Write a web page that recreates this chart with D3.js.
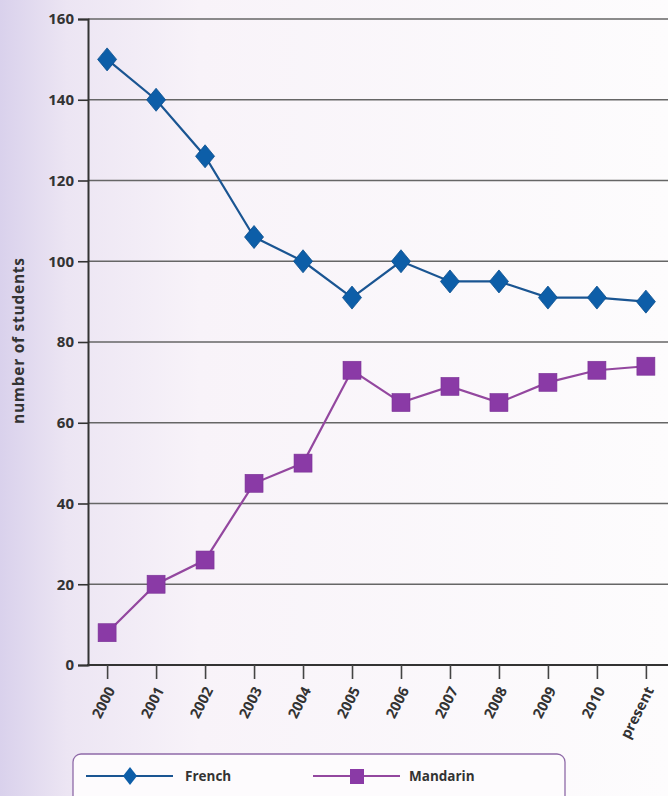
<!DOCTYPE html>
<html><head><meta charset="utf-8">
<script src="https://cdn.jsdelivr.net/npm/d3@7"></script>
<style>
html,body{margin:0;padding:0;}
body{width:668px;height:796px;overflow:hidden;}
svg{display:block;}
text{font-family:"Open Sans","Noto Sans",sans-serif;font-weight:700;fill:#333;}
</style></head>
<body>
<script>
const categories = ["2000","2001","2002","2003","2004","2005","2006","2007","2008","2009","2010","present"];
const french   = [150, 140, 126, 106, 100, 91, 100, 95, 95, 91, 91, 90];
const mandarin = [8, 20, 26, 45, 50, 73, 65, 69, 65, 70, 73, 74];
const yTicks = [0, 20, 40, 60, 80, 100, 120, 140, 160];
const seriesNames = ["French", "Mandarin"];

const W = 668, H = 796;
const svg = d3.select("body").append("svg").attr("width", W).attr("height", H);

const defs = svg.append("defs");
const bg = defs.append("linearGradient").attr("id","bg").attr("x1","0").attr("x2","1").attr("y1","0").attr("y2","0");
bg.append("stop").attr("offset","0").attr("stop-color","#d9d1ec");
bg.append("stop").attr("offset","0.1").attr("stop-color","#ece5f3");
bg.append("stop").attr("offset","0.3").attr("stop-color","#f8f3f9");
bg.append("stop").attr("offset","1").attr("stop-color","#fdfcfd");
svg.append("rect").attr("width",W).attr("height",H).attr("fill","url(#bg)");

const x = d3.scalePoint().domain(categories).range([88, 665]).padding(0.39);
const y = d3.scaleLinear().domain([0, 160]).range([665, 19]);

// gridlines
svg.append("g").selectAll("line").data(yTicks.filter(d => d > 0)).join("line")
  .attr("x1", 88).attr("x2", 668)
  .attr("y1", d => y(d)).attr("y2", d => y(d))
  .attr("stroke", "#666").attr("stroke-width", 1.6);

// y axis
const yAxis = svg.append("g").attr("transform", "translate(88,0)")
  .call(d3.axisLeft(y).tickValues(yTicks).tickSize(10).tickPadding(4));
yAxis.select(".domain").attr("stroke", "#333").attr("stroke-width", 2);
yAxis.selectAll(".tick line").attr("stroke", "#333").attr("stroke-width", 1.6);
yAxis.selectAll(".tick text").style("font-size", "15px").attr("fill", "#333")
  .style("font-family", '"Open Sans",sans-serif').style("font-weight", 700);

// x axis
const xAxis = svg.append("g").attr("transform", "translate(0,665)")
  .call(d3.axisBottom(x).tickSize(14).tickSizeOuter(0));
xAxis.select(".domain").attr("d", "M87,0H668").attr("stroke", "#333").attr("stroke-width", 2.2);
xAxis.selectAll(".tick line").attr("stroke", "#444").attr("stroke-width", 1.6);
xAxis.selectAll(".tick text")
  .style("font-size", "14.5px").attr("fill", "#333")
  .style("font-family", '"Open Sans",sans-serif').style("font-weight", 700)
  .attr("text-anchor", "end")
  .attr("dy", null).attr("y", 0)
  .attr("transform", "translate(8,25) rotate(-63)");

// y label
svg.append("text").attr("transform", "translate(24,341) rotate(-90)")
  .attr("text-anchor", "middle").style("font-size", "15.5px")
  .attr("textLength", 166).attr("lengthAdjust", "spacing")
  .text("number of students");

// lines
const line = d3.line().x((d, i) => x(categories[i])).y(d => y(d));
svg.append("path").datum(french).attr("d", line).attr("fill", "none")
  .attr("stroke", "#1a5592").attr("stroke-width", 2.2);
svg.append("path").datum(mandarin).attr("d", line).attr("fill", "none")
  .attr("stroke", "#93479f").attr("stroke-width", 2.2);

// markers
const diamond = (cx, cy, w, h) => `M${cx},${cy - h/2}L${cx + w/2},${cy}L${cx},${cy + h/2}L${cx - w/2},${cy}Z`;
svg.append("g").selectAll("path").data(french).join("path")
  .attr("d", (d, i) => diamond(x(categories[i]), y(d), 19, 23))
  .attr("fill", "#0d5ea8").attr("stroke", "#0b4f8e").attr("stroke-width", 0.8);
svg.append("g").selectAll("rect").data(mandarin).join("rect")
  .attr("x", (d, i) => x(categories[i]) - 9).attr("y", d => y(d) - 9)
  .attr("width", 18).attr("height", 18)
  .attr("fill", "#8a3aa6").attr("stroke", "#7b3396").attr("stroke-width", 0.6);

// legend
const lg = svg.append("g");
lg.append("rect").attr("x", 73).attr("y", 754).attr("width", 492).attr("height", 60).attr("rx", 8)
  .attr("fill", "#fdfbfd").attr("stroke", "#8f6aa8").attr("stroke-width", 1.3);
lg.append("line").attr("x1", 86).attr("x2", 173).attr("y1", 776).attr("y2", 776)
  .attr("stroke", "#1a5592").attr("stroke-width", 2.2);
lg.append("path").attr("d", diamond(130, 776, 14, 18)).attr("fill", "#0d5ea8");
lg.append("text").attr("x", 185).attr("y", 781).style("font-size", "13.5px").text(seriesNames[0]);
lg.append("line").attr("x1", 313).attr("x2", 400).attr("y1", 776).attr("y2", 776)
  .attr("stroke", "#93479f").attr("stroke-width", 2);
lg.append("rect").attr("x", 350).attr("y", 769).attr("width", 14).attr("height", 15).attr("fill", "#8a3aa6");
lg.append("text").attr("x", 409).attr("y", 781).style("font-size", "13.5px").text(seriesNames[1]);
</script>
</body></html>
